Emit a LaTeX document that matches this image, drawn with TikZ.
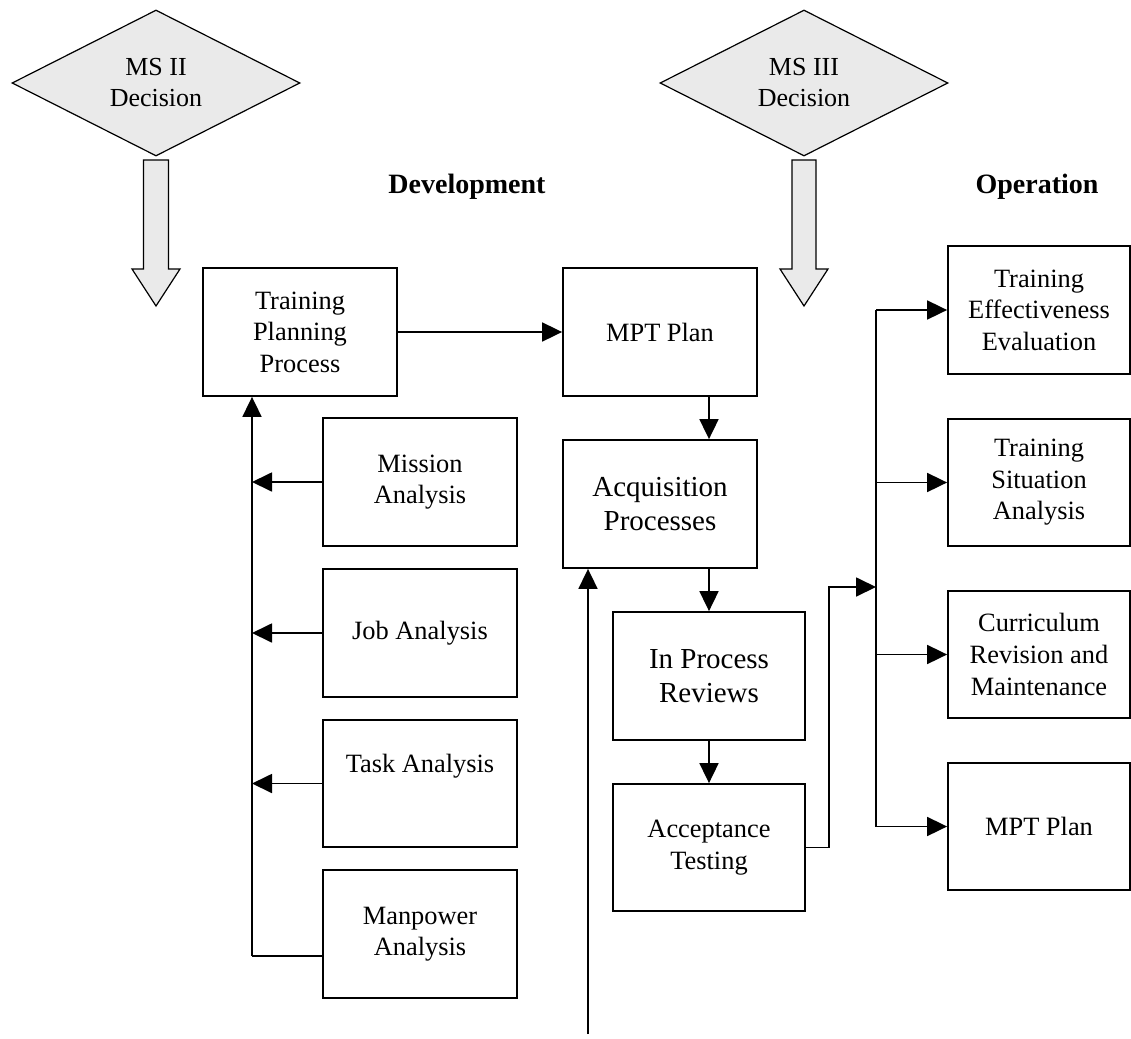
\documentclass[tikz,border=0pt]{standalone}
\usepackage{fontspec}
\setmainfont{Liberation Serif}
\usetikzlibrary{shapes.geometric,arrows.meta}
\definecolor{dgray}{HTML}{EAEAEA}
\begin{document}
\begin{tikzpicture}[x=1pt,y=-1pt,
  box/.style={draw,line width=1.8pt,inner sep=0pt,align=center,
    font=\fontsize{26.4}{31.6}\selectfont},
  lbox/.style={box,minimum width=194pt,minimum height=128pt},
  mbox/.style={box,minimum width=192pt,minimum height=128pt},
  rbox/.style={box,minimum width=182pt,minimum height=128pt},
  bigtext/.style={font=\fontsize{29}{34}\selectfont},
  dec/.style={diamond,draw,fill=dgray,line width=1.2pt,minimum width=288pt,
    minimum height=146pt,inner sep=0pt,align=center,
    font=\fontsize{26}{31}\selectfont},
  blk/.style={draw,fill=dgray,line width=1.2pt,line join=miter},
  arr/.style={line width=1.8pt,-{Triangle[length=20pt,width=19pt]}},
  ln/.style={line width=1.8pt},
  phase/.style={font=\bfseries\fontsize{28}{33}\selectfont}
]
\useasboundingbox (0,0) rectangle (1131,1038);

% decisions
\node[dec] (ms2) at (156,83) {MS II\\Decision};
\node[dec] (ms3) at (804,83) {MS III\\Decision};
\draw[blk] (143.5,160) -- (143.5,269) -- (132,269) -- (156,306) -- (180,269)
  -- (168.5,269) -- (168.5,160) -- cycle;
\draw[blk] (792,160) -- (792,269) -- (780,269) -- (804,306) -- (828,269)
  -- (816,269) -- (816,160) -- cycle;

% phase labels
\node[phase] (dev) at (467,187) {Development};
\node[phase] (op) at (1037,187) {Operation};

% development column
\node[lbox] (tpp) at (300,332) {Training\\Planning\\Process};
\node[lbox] (mpt) at (660,332) {MPT Plan};
\node[lbox,bigtext] (acq) at (660,504) {Acquisition\\Processes};
\node[mbox,bigtext] (ipr) at (709,676) {In Process\\Reviews};
\node[mbox,minimum height=127pt] (acc) at (709,847.5) {Acceptance\\Testing};

\node[lbox] (mis) at (420,482) {Mission\\Analysis};
\node[lbox] (job) at (420,633) {Job Analysis};
\node[lbox,minimum height=127pt] (task) at (420,783.5) {Task Analysis\\ \strut};
\node[lbox] (man) at (420,934) {Manpower\\Analysis};

% operation column
\node[rbox] (tee) at (1039,310) {Training\\Effectiveness\\Evaluation};
\node[rbox,minimum height=127pt] (tsa) at (1039,482.5) {Training\\Situation\\Analysis};
\node[rbox,minimum height=127pt] (crm) at (1039,654.5) {Curriculum\\Revision and\\Maintenance};
\node[rbox,minimum height=127pt] (mpt2) at (1039,826.5) {MPT Plan};

% connectors
\draw[arr] (tpp.east) -- (mpt.west);
\draw[arr] (ipr.north |- mpt.south) -- (ipr.north |- acq.north);
\draw[arr] (ipr.north |- acq.south) -- (ipr.north);
\draw[arr] (ipr.south) -- (acc.north);

\coordinate (lb) at (252,956);
\draw[ln] ([yshift=-22pt]man.west) -- (lb);
\draw[arr] (lb) -- (lb |- tpp.south);
\draw[arr] (mis.west) -- (mis.west -| lb);
\draw[arr] (job.west) -- (job.west -| lb);
\draw[arr] (task.west) -- (task.west -| lb);

\coordinate (bt) at (588,1034);
\draw[arr] (bt) -- (bt |- acq.south);

\coordinate (rb) at (876,587);
\draw[arr] (acc.east) -- ++(23,0) |- (rb);
\draw[ln] (tee.west -| rb) -- (mpt2.west -| rb);
\draw[arr] (tee.west -| rb) -- (tee.west);
\draw[arr] (tsa.west -| rb) -- (tsa.west);
\draw[arr] (crm.west -| rb) -- (crm.west);
\draw[arr] (mpt2.west -| rb) -- (mpt2.west);
\end{tikzpicture}
\end{document}
